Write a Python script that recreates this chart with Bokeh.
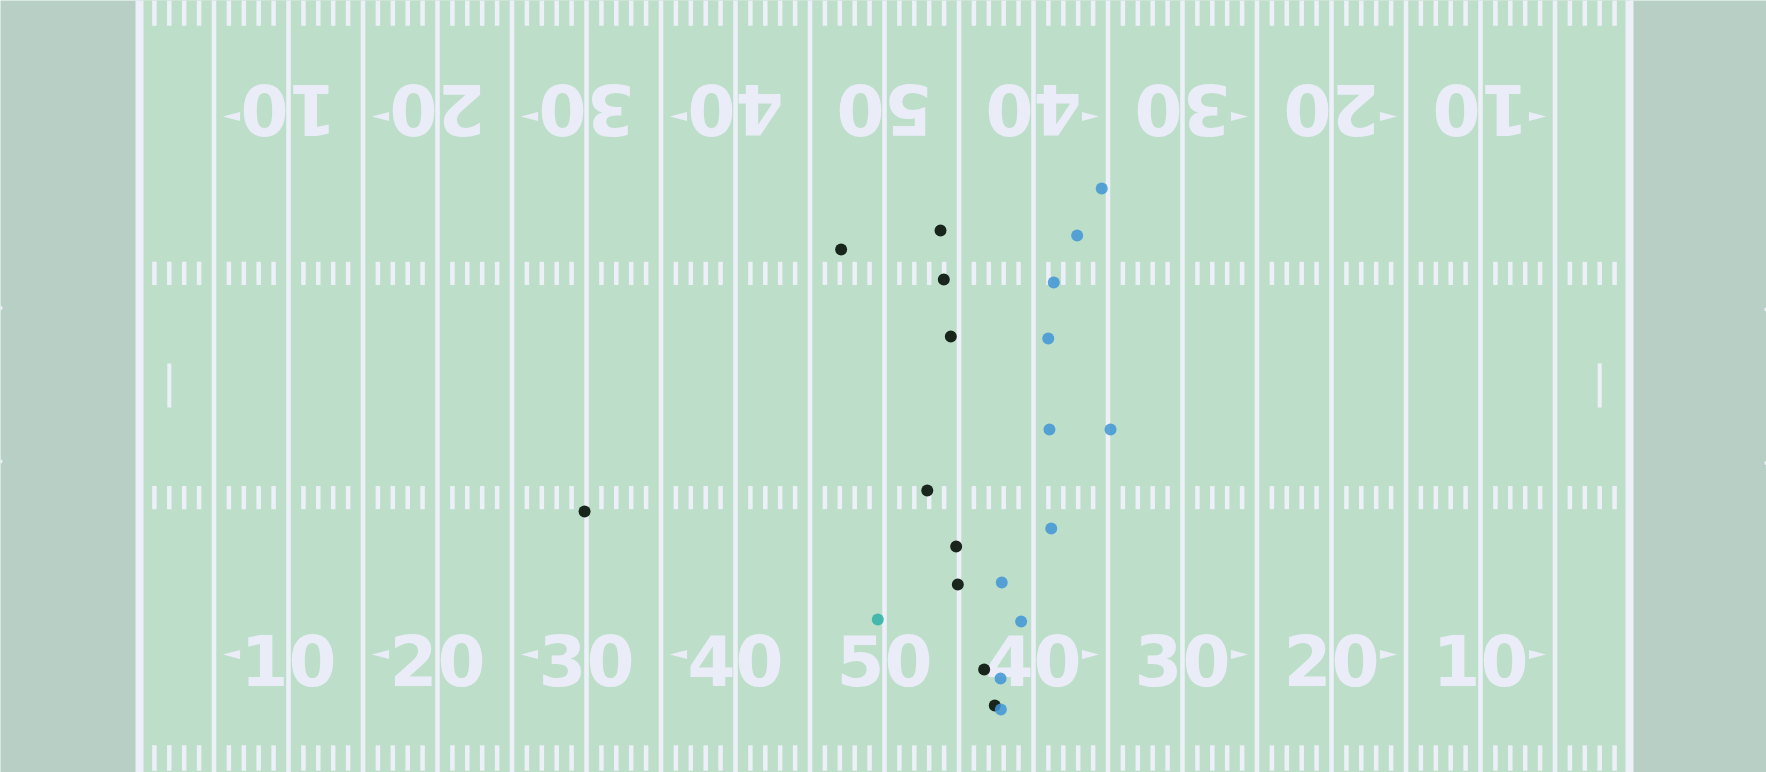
import numpy as np
from bokeh.plotting import figure
from bokeh.models import Range1d
from bokeh.core.properties import value
from bokeh.embed import file_html
from bokeh.resources import INLINE

# ---- data (yards; field 0-120 with goal lines at 10 and 110, width 0-53.3) ----
yard_labels = ["10", "20", "30", "40", "50", "40", "30", "20", "10"]
yard_label_x = [20, 30, 40, 50, 60, 70, 80, 90, 100]

home_x = [57.09, 63.76, 63.98, 64.45, 62.87, 39.87, 64.81, 64.92, 66.69, 67.40]
home_y = [35.78, 37.05, 33.76, 29.94, 19.60, 18.19, 15.84, 13.29, 7.59, 5.17]

away_x = [74.58, 72.93, 71.36, 70.99, 71.07, 75.17, 71.19, 67.87, 69.17, 67.79, 67.81]
away_y = [39.87, 36.72, 33.56, 29.80, 23.70, 23.70, 17.05, 13.43, 10.81, 6.99, 4.91]

ball_x = [59.55]
ball_y = [10.95]

# ---- styles ----
FIELD = "#bddfc9"
ENDZONE = "#b7cfc5"
LINE = "#eef0f9"
TEXT = "#eaedf8"
W_FIELD = 53.3
MID = W_FIELD / 2

p = figure(width=1766, height=772, output_backend="svg", toolbar_location=None,
           x_range=Range1d(0.671, 119.195), y_range=Range1d(0.677, 52.49),
           min_border=0, background_fill_color=ENDZONE, border_fill_color=ENDZONE)
p.axis.visible = False
p.xgrid.visible = False
p.ygrid.visible = False
p.outline_line_color = None

# field surface
p.quad(left=[10], right=[110], bottom=[-5], top=[60], fill_color=FIELD, line_color=None)

# yard lines every 5 yards
yl = np.arange(15, 110, 5)
p.segment(x0=yl, y0=-5, x1=yl, y1=60, line_color=LINE, line_width=4.5)
# goal lines
p.segment(x0=[10, 110], y0=-5, x1=[10, 110], y1=60, line_color=LINE, line_width=8)

# hash marks
hx = np.array([x for x in range(11, 110) if x % 5 != 0])
for (y0, y1) in [(0.8, 2.5), (18.35, 19.9), (MID + 6.75, MID + 8.3), (W_FIELD - 2.5, W_FIELD - 0.8)]:
    p.segment(x0=hx, y0=y0, x1=hx, y1=y1, line_color=LINE, line_width=4.5)

# PAT marks
p.segment(x0=[12, 108], y0=MID - 1.48, x1=[12, 108], y1=MID + 1.48, line_color=LINE, line_width=4)

# goal post ends at the plot edges
p.scatter(x=[0.68, 0.68, 119.19, 119.19], y=[MID + 5.2, MID - 5.1, MID + 5.1, MID - 5.2],
          size=4, fill_color=LINE, line_color=None)

# yard numbers
num_mid = 8.19
p.text(x=yard_label_x, y=[num_mid] * len(yard_label_x), text=yard_labels,
       text_align="center", text_baseline="middle",
       text_font=value("DejaVu Sans"), text_font_style="bold",
       text_font_size="69px", text_color=TEXT)
p.text(x=yard_label_x, y=[W_FIELD - num_mid] * len(yard_label_x), text=yard_labels,
       angle=np.pi, text_align="center", text_baseline="middle",
       text_font=value("DejaVu Sans"), text_font_style="bold",
       text_font_size="69px", text_color=TEXT)

# direction arrows
xs, ys = [], []
for lx in yard_label_x:
    if lx == 60:
        continue
    d = -1 if lx < 60 else 1
    tip = lx + d * 4.4
    base = lx + d * 3.25
    for yc in (8.6, W_FIELD - 8.6):
        xs.append([tip, base, base])
        ys.append([yc, yc + 0.3, yc - 0.3])
p.patches(xs, ys, fill_color=TEXT, line_color=None)

# players and ball
p.scatter(home_x, home_y, size=12, fill_color="#0f1a12", fill_alpha=0.95, line_color=None)
p.scatter(away_x, away_y, size=12, fill_color="#3f95d6", fill_alpha=0.85, line_color=None)
p.scatter(ball_x, ball_y, size=12, fill_color="#35b5a8", fill_alpha=0.9, line_color=None)

open("out.html", "w").write(file_html(p, INLINE))
